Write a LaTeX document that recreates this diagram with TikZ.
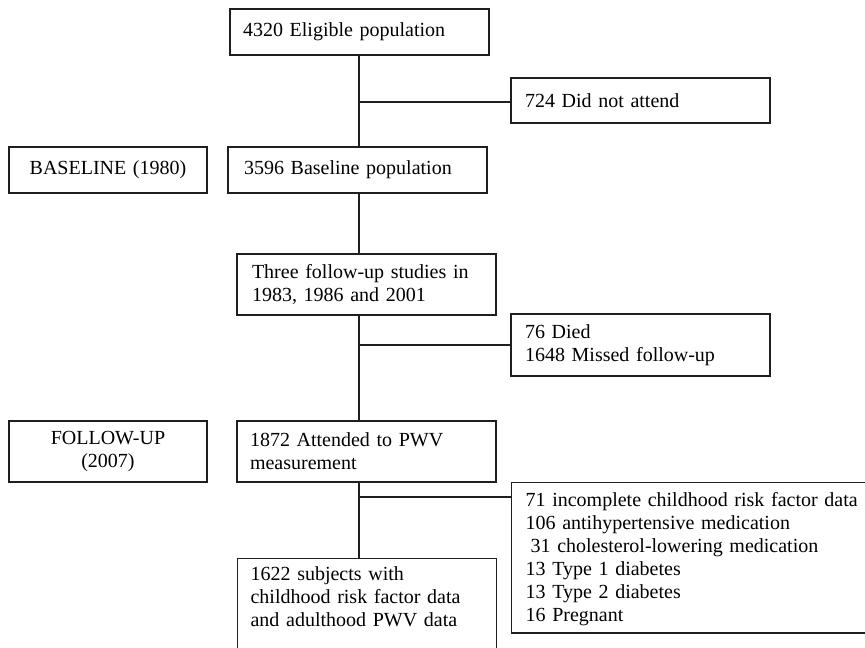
\documentclass[tikz,border=0pt]{standalone}
\usepackage{fontspec}
\setmainfont{Liberation Serif}
\begin{document}
\begin{tikzpicture}[x=1pt,y=-1pt,
  box/.style={draw=black!88, line width=1.2pt, font=\fontsize{20}{23}\selectfont,
    align=left, inner ysep=0pt, anchor=center},
  lbox/.style={box, align=center},
  conn/.style={draw=black!88, line width=1.2pt}]
\useasboundingbox (0,0) rectangle (865,648);
\clip (0,0) rectangle (865,648);
\fill[white] (0,0) rectangle (865,648);
% boxes
\node[box, minimum width=259, minimum height=46, inner xsep=13, text width=233] (e) at (359.5,32) {4320 Eligible population};
\node[box, minimum width=259, minimum height=45, inner xsep=14, text width=231] (n) at (640.5,100.5) {724 Did not attend};
\node[lbox, minimum width=198, minimum height=46, inner xsep=10, text width=178] (bl) at (108,170) {BASELINE (1980)};
\node[box, minimum width=259, minimum height=46, inner xsep=16, text width=227] (b) at (357.5,170) {3596 Baseline population};
\node[box, minimum width=259, minimum height=61, inner xsep=15, text width=229] (t) at (366.5,284.5) {Three follow-up studies in\\1983, 1986 and 2001};
\node[box, minimum width=259, minimum height=62, inner xsep=14, text width=231] (d) at (640.5,345) {76 Died\\1648 Missed follow-up};
\node[lbox, minimum width=198, minimum height=61, inner xsep=10, text width=178] (fu) at (108,451.5) {FOLLOW-UP\\(2007)};
\node[box, minimum width=259, minimum height=61, inner xsep=13, text width=233] (a) at (366.5,451.5) {1872 Attended to PWV\\measurement};
\node[box, anchor=north west, minimum width=389, inner xsep=14, inner ysep=10, text width=361, text depth=116.3pt] (x) at (511,482) {71 incomplete childhood risk factor data\\106 antihypertensive medication\\\hspace*{5pt}31 cholesterol-lowering medication\\13 Type 1 diabetes\\13 Type 2 diabetes\\16 Pregnant};
\node[box, anchor=north west, minimum width=259, inner xsep=13, inner ysep=8, text width=233, text depth=70pt] (f) at (237,558) {1622 subjects with\\childhood risk factor data\\and adulthood PWV data};
% connectors
\coordinate (spine) at (359,0);
\coordinate (j1) at (359,102);
\coordinate (j4) at (359,497);
\draw[conn] (spine |- e.south) -- (spine |- b.north);
\draw[conn] (j1) -- (j1 -| n.west);
\draw[conn] (spine |- b.south) -- (spine |- t.north);
\draw[conn] (spine |- t.south) -- (spine |- a.north);
\draw[conn] (spine |- d.west) -- (d.west);
\draw[conn] (spine |- a.south) -- (spine |- f.north);
\draw[conn] (j4) -- (j4 -| x.west);
\end{tikzpicture}
\end{document}
